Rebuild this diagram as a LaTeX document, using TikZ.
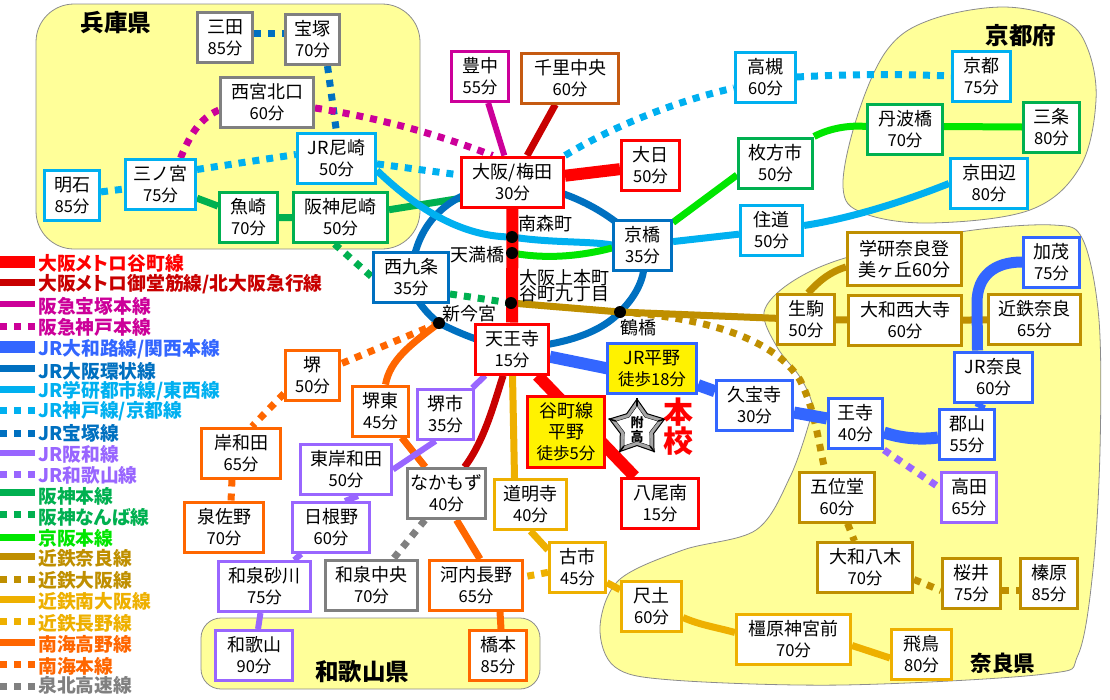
\documentclass[tikz,border=0pt]{standalone}
\usepackage{fontspec}
\setmainfont{Noto Sans CJK JP}
\newfontfamily\legfont[RawFeature=+palt]{Noto Sans CJK JP}
\usetikzlibrary{shapes.geometric, positioning}
\definecolor{cTani}{HTML}{FF0000}
\definecolor{cMido}{HTML}{C80000}
\definecolor{cHkyu}{HTML}{CC0099}
\definecolor{cYama}{HTML}{3366FF}
\definecolor{cLoop}{HTML}{0070C0}
\definecolor{cSky}{HTML}{00B0F0}
\definecolor{cHanw}{HTML}{9966FF}
\definecolor{cHshn}{HTML}{00B050}
\definecolor{cKeih}{HTML}{00E600}
\definecolor{cKint}{HTML}{BF8F00}
\definecolor{cMina}{HTML}{EEB000}
\definecolor{cNank}{HTML}{FF6600}
\definecolor{cGray}{HTML}{808080}
\definecolor{cSenr}{HTML}{C55A11}
\definecolor{cArea}{HTML}{FFFF99}
\newcommand{\tm}{\fontsize{16.5}{21}\selectfont}
\pgfdeclarelayer{area}
\pgfdeclarelayer{route}
\pgfsetlayers{area,route,main}
\tikzset{
    stn/.style={rectangle, fill=white, line width=3pt, align=center, inner sep=0pt, minimum height=50pt,
        font=\fontsize{18}{21}\selectfont},
    spot/.style={circle, fill=black, inner sep=0pt, minimum size=12pt},
    spotname/.style={inner sep=0pt, font=\fontsize{18}{18}\selectfont},
    areaname/.style={inner sep=0pt, font=\fontsize{23.5}{23}\selectfont\bfseries},
    legname/.style={anchor=west, inner sep=0pt, font=\legfont\fontsize{18.8}{18}\selectfont\bfseries},
    area/.style={fill=cArea, draw=black!45, line width=0.8pt},
    dots/.style={dash pattern=on 7pt off 7pt},
    tanimachi/.style={draw=cTani, line width=12pt},
    midosuji/.style={draw=cMido, line width=7pt},
    takarazuka/.style={draw=cHkyu, line width=6pt},
    hkobe/.style={draw=cHkyu, line width=7pt, dots},
    yamato/.style={draw=cYama, line width=12pt},
    kanjo/.style={draw=cLoop, line width=7pt},
    gakken/.style={draw=cSky, line width=7pt},
    jrkobe/.style={draw=cSky, line width=7pt, dots},
    jrtaka/.style={draw=cLoop, line width=7pt, dots},
    hanwa/.style={draw=cHanw, line width=6pt},
    jrwaka/.style={draw=cHanw, line width=7pt, dots},
    hanshin/.style={draw=cHshn, line width=7pt},
    hnamba/.style={draw=cHshn, line width=7pt, dots},
    keihan/.style={draw=cKeih, line width=7pt},
    knara/.style={draw=cKint, line width=7pt},
    kosaka/.style={draw=cKint, line width=7pt, dots},
    kminami/.style={draw=cMina, line width=7pt},
    knagano/.style={draw=cMina, line width=7pt, dots},
    koya/.style={draw=cNank, line width=7pt},
    nankai/.style={draw=cNank, line width=7pt, dots},
    senboku/.style={draw=cGray, line width=7pt, dots}
}

\begin{document}
\begin{tikzpicture}[x=1pt, y=-1pt]
    \useasboundingbox (0,0) rectangle (1110,699);

    % 府県
    \begin{pgfonlayer}{area}
        \draw[area, rounded corners=38pt] (36,4) rectangle (420,249);
        \draw[area, rounded corners=20pt] (201,618) rectangle (540,689);
        \draw[area] plot[smooth cycle, tension=0.6] coordinates {(843,187) (863,213) (930,223) (1030,210)
            (1080,167) (1096,100) (1087,47) (1063,20) (1003,7) (930,20) (887,50) (857,117)};
        \draw[area] plot[smooth cycle, tension=0.55] coordinates {(764,312) (790,283) (845,258) (960,232)
            (1053,225) (1083,240) (1099,320) (1100,450) (1093,570) (1078,655) (1045,674) (843,685) (672,680) (615,667)
            (600,627) (619,580) (683,550) (756,530) (790,477) (810,420) (812,403) (800,377) (777,347)};
    \end{pgfonlayer}
    \node[areaname] (hyogo) at (116,23) {兵庫県};
    \node[areaname] (kyotofu) at (1021,36) {京都府};
    \node[areaname] (wakayamaken) at (362,672) {和歌山県};
    \node[areaname, font=\fontsize{21.5}{23}\selectfont\bfseries] (naraken) at (1003,663) {奈良県};

    % 兵庫
    \node[stn, draw=cGray, minimum width=55pt] (sanda) at (225,37.5) {三田\\\tm 85分};
    \node[stn, draw=cGray, minimum width=54pt] (takarazukast) at (312.5,39.5) {宝塚\\\tm 70分};
    \node[stn, draw=cGray, minimum width=93pt] (nishinomiya) at (267,102) {西宮北口\\\tm 60分};
    \node[stn, draw=cSky, minimum width=78pt] (amagasaki) at (336.5,158.5) {JR尼崎\\\tm 50分};
    \node[stn, draw=cSky, minimum width=70pt] (sannomiya) at (160.5,184.5) {三ノ宮\\\tm 75分};
    \node[stn, draw=cSky, minimum width=55pt] (akashi) at (72,195.5) {明石\\\tm 85分};
    \node[stn, draw=cHshn, minimum width=58pt] (uozaki) at (248.5,217.5) {魚崎\\\tm 70分};
    \node[stn, draw=cHshn, minimum width=94pt] (hanshinama) at (340.5,217.5) {阪神尼崎\\\tm 50分};

    % 大阪北 京都
    \node[stn, draw=cTani, minimum width=102pt] (umeda) at (512.5,182) {大阪/梅田\\\tm 30分};
    \node[stn, draw=cHkyu, minimum width=57pt] (toyonaka) at (480,76.5) {豊中\\\tm 55分};
    \node[stn, draw=cSenr, minimum width=97pt] (senri) at (570,78) {千里中央\\\tm 60分};
    \node[stn, draw=cTani, minimum width=58pt] (dainichi) at (650.5,165.5) {大日\\\tm 50分};
    \node[stn, draw=cSky, minimum width=60pt] (takatsuki) at (765.5,77) {高槻\\\tm 60分};
    \node[stn, draw=cSky, minimum width=58pt] (kyoto) at (981.5,76) {京都\\\tm 75分};
    \node[stn, draw=cHshn, minimum width=75pt] (tanbabashi) at (905,129.5) {丹波橋\\\tm 70分};
    \node[stn, draw=cHshn, minimum width=56pt] (sanjo) at (1051.5,127) {三条\\\tm 80分};
    \node[stn, draw=cHshn, minimum width=74pt] (hirakata) at (775.5,163) {枚方市\\\tm 50分};
    \node[stn, draw=cSky, minimum width=77pt] (kyotanabe) at (989,183.5) {京田辺\\\tm 80分};
    \node[stn, draw=cSky, minimum width=62pt] (suminodo) at (771.5,230.5) {住道\\\tm 50分};
    \node[stn, draw=cLoop, minimum width=58pt] (kyobashi) at (642.5,245) {京橋\\\tm 35分};
    \node[stn, draw=cLoop, minimum width=75pt] (nishikujo) at (411,277) {西九条\\\tm 35分};

    % 大阪中央
    \node[stn, draw=cTani, minimum width=73pt] (tennoji) at (512,349) {天王寺\\\tm 15分};
    \node[stn, draw=cYama, fill=yellow, minimum width=89pt] (jrhirano) at (652,368.5) {JR平野\\\tm 徒歩18分};
    \node[stn, draw=cTani, fill=yellow, minimum width=77pt, minimum height=71pt] (hirano) at (566,432) {谷町線\\平野\\\tm 徒歩5分};
    \node[stn, draw=cTani, minimum width=77pt] (yaominami) at (660,503) {八尾南\\\tm 15分};
    \node[stn, draw=cMina, minimum width=72pt] (domyoji) at (530.5,504.5) {道明寺\\\tm 40分};

    % 南大阪 和歌山
    \node[stn, draw=cNank, minimum width=54pt] (sakai) at (312.5,375.5) {堺\\\tm 50分};
    \node[stn, draw=cNank, minimum width=79pt] (kishiwada) at (241,453) {岸和田\\\tm 65分};
    \node[stn, draw=cNank, minimum width=79pt] (izumisano) at (224,527.5) {泉佐野\\\tm 70分};
    \node[stn, draw=cNank, minimum width=56pt] (sakaihigashi) at (380.5,411) {堺東\\\tm 45分};
    \node[stn, draw=cHanw, minimum width=56pt] (sakaishi) at (445.5,414.5) {堺市\\\tm 35分};
    \node[stn, draw=cHanw, minimum width=91pt] (higashikishi) at (346,469.5) {東岸和田\\\tm 50分};
    \node[stn, draw=cGray, minimum width=78pt] (nakamozu) at (446.5,493.5) {なかもず\\\tm 40分};
    \node[stn, draw=cHanw, minimum width=77pt] (hineno) at (331,527.5) {日根野\\\tm 60分};
    \node[stn, draw=cHanw, minimum width=92pt] (izumisuna) at (264.5,586.5) {和泉砂川\\\tm 75分};
    \node[stn, draw=cGray, minimum width=92pt] (izumichuo) at (371.5,585.5) {和泉中央\\\tm 70分};
    \node[stn, draw=cNank, minimum width=93pt] (kawachi) at (476,585.5) {河内長野\\\tm 65分};
    \node[stn, draw=cMina, minimum width=56pt] (furuichi) at (577.5,567) {古市\\\tm 45分};
    \node[stn, draw=cHanw, minimum width=77pt] (wakayama) at (254,655.5) {和歌山\\\tm 90分};
    \node[stn, draw=cNank, minimum width=57pt] (hashimoto) at (498,655.5) {橋本\\\tm 85分};

    % 奈良
    \node[stn, draw=cKint, minimum width=114pt, minimum height=53pt] (gakkennara) at (904.5,259) {学研奈良登\\美ヶ丘60分};
    \node[stn, draw=cKint, minimum width=57pt] (ikoma) at (806,319.5) {生駒\\\tm 50分};
    \node[stn, draw=cKint, minimum width=113pt] (saidaiji) at (905,320.5) {大和西大寺\\\tm 60分};
    \node[stn, draw=cKint, minimum width=92pt] (kintetsunara) at (1034.5,319.5) {近鉄奈良\\\tm 65分};
    \node[stn, draw=cYama, minimum width=56pt] (kamo) at (1051.5,262) {加茂\\\tm 75分};
    \node[stn, draw=cYama, minimum width=78pt] (jrnara) at (993.5,377) {JR奈良\\\tm 60分};
    \node[stn, draw=cYama, minimum width=76pt] (kyuhoji) at (754.5,405.5) {久宝寺\\\tm 30分};
    \node[stn, draw=cYama, minimum width=54pt] (oji) at (855.5,423.5) {王寺\\\tm 40分};
    \node[stn, draw=cYama, minimum width=55pt] (koriyama) at (967,434.5) {郡山\\\tm 55分};
    \node[stn, draw=cHanw, minimum width=55pt] (takada) at (969,497) {高田\\\tm 65分};
    \node[stn, draw=cKint, minimum width=75pt] (goido) at (837,497) {五位堂\\\tm 60分};
    \node[stn, draw=cKint, minimum width=95pt] (yagi) at (865,567.5) {大和八木\\\tm 70分};
    \node[stn, draw=cKint, minimum width=58pt] (sakurai) at (971.5,583.5) {桜井\\\tm 75分};
    \node[stn, draw=cKint, minimum width=57pt] (haibara) at (1049,583.5) {榛原\\\tm 85分};
    \node[stn, draw=cMina, minimum width=60pt] (shakudo) at (651.5,606.5) {尺土\\\tm 60分};
    \node[stn, draw=cMina, minimum width=114pt] (kashihara) at (793.5,639.5) {橿原神宮前\\\tm 70分};
    \node[stn, draw=cMina, minimum width=60pt] (asuka) at (921.5,654) {飛鳥\\\tm 80分};

    % 乗換駅
    \node[spot] (minamimori) at (512,237) {};
    \node[spot] (tenmabashi) at (512,253) {};
    \node[spot] (taniku) at (511,303) {};
    \node[spot] (tsuruhashi) at (620,312) {};
    \node[spot] (shinimamiya) at (439,323) {};
    \node[spotname] (minamimoriname) at (545,224) {南森町};
    \node[spotname] (tenmabashiname) at (477,255) {天満橋};
    \node[spotname] (uehonmachi) at (564,278) {大阪上本町};
    \node[spotname] (tanikuname) at (564,294) {谷町九丁目};
    \node[spotname] (shinimamiyaname) at (469,314) {新今宮};
    \node[spotname] (tsuruhashiname) at (638,328) {鶴橋};

    % 路線
    \begin{pgfonlayer}{route}
        \draw[jrtaka] ([yshift=4pt]sanda.east) -- ([yshift=6pt]takarazukast.west);
        \draw[jrtaka] ([xshift=15pt]takarazukast.south) -- (amagasaki.north);
        \draw[hkobe] ([xshift=20pt]sannomiya.north) .. controls (190,135) and (200,118) .. ([yshift=-8pt]nishinomiya.west);
        \draw[hkobe] ([yshift=-6pt]nishinomiya.east) .. controls (380,118) and (440,135) .. ([xshift=-20pt]umeda.north);
        \draw[jrkobe] (akashi) -- (sannomiya);
        \draw[jrkobe] ([yshift=15pt]sannomiya.east) -- ([yshift=4pt]amagasaki.west);
        \draw[jrkobe] (amagasaki) -- (umeda);
        \draw[jrkobe] (umeda.north east) .. controls (615,125) and (680,100) .. ([yshift=-11pt]takatsuki.west);
        \draw[jrkobe] (takatsuki.east) .. controls (850,74) and (900,74) .. (kyoto.west);
        \draw[hanshin] (sannomiya) -- (uozaki) -- (hanshinama);
        \draw[hanshin] (hanshinama) -- ([yshift=-8pt]umeda.center);
        \draw[hnamba] ([xshift=-6pt]hanshinama.south) -- (nishikujo.west);
        \draw[hnamba] ([yshift=-17pt]nishikujo.east) -- (taniku.center);
        \draw[kanjo] (umeda.center) .. controls (575,190) and (612,215) .. (kyobashi.center)
            .. controls (650,275) and (635,297) .. (tsuruhashi.center)
            .. controls (598,335) and (560,345) .. (tennoji.center)
            .. controls (490,345) and (462,335) .. (shinimamiya.center)
            .. controls (412,303) and (402,268) .. (nishikujo.center)
            .. controls (415,225) and (445,190) .. (umeda.center);
        \draw[gakken] ([yshift=-12pt]amagasaki.east) .. controls (420,212) and (465,237) .. (minamimori.center)
            .. controls (550,243) and (590,241) .. (kyobashi.west);
        \draw[gakken] (kyobashi) -- (suminodo);
        \draw[gakken] ([yshift=5pt]suminodo.east) .. controls (840,220) and (890,207) .. (kyotanabe.west);
        \draw[keihan] (tenmabashi.center) .. controls (550,260) and (585,255) .. ([yshift=-3pt]kyobashi.west);
        \draw[keihan] (kyobashi) -- ([yshift=-12pt]hirakata.west);
        \draw[keihan] (hirakata.north east) .. controls (830,128) and (850,125) .. ([yshift=3pt]tanbabashi.west);
        \draw[keihan] ([yshift=3pt]tanbabashi.east) -- (sanjo.west);
        \draw[kosaka] (tsuruhashi.center) .. controls (710,318) and (775,340) .. (800,380)
            .. controls (815,410) and (818,440) .. ([xshift=-12pt]goido.north);
        \draw[kosaka] (goido) -- (yagi);
        \draw[kosaka] ([yshift=-12pt]yagi.east) -- ([yshift=-7pt]sakurai.west);
        \draw[kosaka] ([yshift=-7pt]sakurai.east) -- ([yshift=-7pt]haibara.west);
        \draw[knara] (taniku.center) -- (tsuruhashi.center) -- (ikoma) -- (saidaiji) -- (kintetsunara);
        \draw[knara] ([xshift=2pt]ikoma.north) .. controls (820,280) and (830,272) .. ([yshift=-8pt]gakkennara.west);
        \draw[kminami] (tennoji) -- ([xshift=-16pt]domyoji.north);
        \draw[kminami] (domyoji.south) -- ([yshift=17pt]furuichi.west);
        \draw[kminami] (furuichi) -- (shakudo);
        \draw[kminami] ([yshift=-11pt]shakudo.east) .. controls (700,625) and (715,627) .. ([yshift=7pt]kashihara.west);
        \draw[kminami] ([yshift=-6pt]kashihara.east) -- ([yshift=-4pt]asuka.west);
        \draw[knagano] (furuichi) -- (kawachi);
        \draw[koya] (shinimamiya.center) .. controls (410,345) and (390,360) .. ([xshift=5pt]sakaihigashi.north);
        \draw[koya] (sakaihigashi) -- (nakamozu);
        \draw[koya] ([xshift=10pt]nakamozu.south) -- ([xshift=4pt]kawachi.north);
        \draw[koya] ([xshift=24pt]kawachi.south) -- ([xshift=3pt]hashimoto.north);
        \draw[nankai] (shinimamiya.center) -- (sakai);
        \draw[nankai] ([yshift=-18pt]sakai.west) -- ([xshift=11pt]kishiwada.north);
        \draw[nankai] ([xshift=-9pt]kishiwada.south) -- ([xshift=7pt]izumisano.north);
        \draw[senboku] (nakamozu) -- (izumichuo);
        \draw[hanwa] (tennoji) -- (sakaishi);
        \draw[hanwa] ([xshift=-10pt]sakaishi.south) -- (higashikishi.east);
        \draw[hanwa] ([xshift=12pt]higashikishi.south) -- ([xshift=14pt]hineno.north);
        \draw[hanwa] (hineno) -- (izumisuna) -- (wakayama);
        \draw[jrwaka] (oji.south east) -- ([yshift=9pt]takada.west);
        \draw[yamato] (tennoji) -- ([yshift=-9pt]jrhirano.center);
        \draw[yamato] (jrhirano) -- (kyuhoji) -- (oji);
        \draw[yamato] ([yshift=-9pt]oji.east) .. controls (900,438) and (920,440) .. ([yshift=-3pt]koriyama.west);
        \draw[yamato, line width=10pt] (koriyama) -- (jrnara);
        \draw[yamato, line width=11pt] ([xshift=-16pt]jrnara.north) -- (977,303) .. controls (977,275) and (995,262) .. (kamo.west);
        \draw[takarazuka] (toyonaka) -- (umeda);
        \draw[midosuji] (senri) -- (umeda);
        \draw[midosuji] (tennoji) .. controls (495,400) and (485,440) .. ([xshift=18pt]nakamozu.north);
        \draw[tanimachi] (umeda) -- (dainichi);
        \draw[tanimachi] (umeda) -- (tennoji) -- (yaominami);
    \end{pgfonlayer}

    % 本校
    \node[star, star points=5, star point ratio=1.65, minimum size=58pt, inner sep=0pt, draw=black, fill=black!35, line width=1pt] (emblem) at (637,428) {};
    \node[star, star points=5, star point ratio=1.65, minimum size=44pt, inner sep=0pt, draw=black, fill=white] (emblemin) at (emblem) {};
    \foreach \i in {1,...,5} {
        \draw[line width=1.5pt] (emblem.outer point \i) -- (emblemin.outer point \i);
    }
    \node[inner sep=0pt, font=\fontsize{13}{14}\selectfont\bfseries, align=center] (fuko) at (637,430) {附\\高};
    \node[inner sep=0pt, text=cTani, font=\fontsize{30}{27}\selectfont\bfseries, align=center] (honko) at (678,426.5) {本\\校};

    % 路線名
    \foreach \y/\ky/\ln/\col/\txt in {
        262/263/tanimachi/cTani/大阪メトロ谷町線,
        282/284/midosuji/cMido/{大阪メトロ御堂筋線/北大阪急行線},
        304/306/takarazuka/cHkyu/阪急宝塚本線,
        326/327/hkobe/cHkyu/阪急神戸本線,
        347/349/yamato/cYama/{JR大和路線/関西本線},
        368/371/kanjo/cLoop/JR大阪環状線,
        389/391/gakken/cSky/{JR学研都市線/東西線},
        410/411/jrkobe/cSky/{JR神戸線/京都線},
        433/433/jrtaka/cLoop/JR宝塚線,
        453/454/hanwa/cHanw/JR阪和線,
        474/475/jrwaka/cHanw/JR和歌山線,
        492/496/hanshin/cHshn/阪神本線,
        514/517/hnamba/cHshn/阪神なんば線,
        537/538/keihan/cKeih/京阪本線,
        556/558/knara/cKint/近鉄奈良線,
        579/580/kosaka/cKint/近鉄大阪線,
        599/601/kminami/cMina/近鉄南大阪線,
        621/623/knagano/cMina/近鉄長野線,
        642/644/koya/cNank/南海高野線,
        664/666/nankai/cNank/南海本線,
        686/685/senboku/cGray/泉北高速線} {
        \node[legname, text=\col] (leg\y) at (38,\ky) {\txt};
        \coordinate (legs\y) at (0,\y);
        \coordinate (lege\y) at (35,\y);
        \draw[\ln] (legs\y) -- (lege\y);
    }
\end{tikzpicture}
\end{document}
